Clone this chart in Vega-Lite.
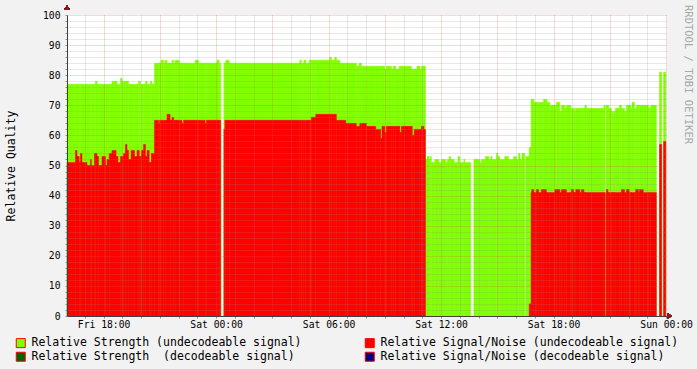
{
  "$schema": "https://vega.github.io/schema/vega-lite/v6.json",
  "width": 600,
  "height": 301,
  "autosize": {"type": "none"},
  "padding": {"left": 67, "top": 15, "right": 30, "bottom": 53},
  "background": "#f2f2f2",
  "view": {"fill": "white", "stroke": null},
  "config": {"font": "DejaVu Sans Mono"},
  "title": {"text": "RRDTOOL / TOBI OETIKER", "orient": "right", "anchor": "start", "offset": -10, "dx": -10, "font": "DejaVu Sans Mono", "fontSize": 10.5, "fontWeight": "normal", "color": "#a8a8a8", "frame": "group"},
  "data": {"values": [
    {"start":"2010-01-01T16:03:00Z","end":"2010-01-01T16:30:00Z","strength":77,"snr":51},
    {"start":"2010-01-01T16:30:00Z","end":"2010-01-01T16:35:00Z","strength":77,"snr":55},
    {"start":"2010-01-01T16:35:00Z","end":"2010-01-01T16:42:00Z","strength":77,"snr":53},
    {"start":"2010-01-01T16:42:00Z","end":"2010-01-01T16:46:00Z","strength":77,"snr":51},
    {"start":"2010-01-01T16:46:00Z","end":"2010-01-01T16:51:00Z","strength":77,"snr":54},
    {"start":"2010-01-01T16:51:00Z","end":"2010-01-01T17:07:00Z","strength":77,"snr":51},
    {"start":"2010-01-01T17:07:00Z","end":"2010-01-01T17:18:00Z","strength":77,"snr":50},
    {"start":"2010-01-01T17:18:00Z","end":"2010-01-01T17:21:00Z","strength":77,"snr":52},
    {"start":"2010-01-01T17:21:00Z","end":"2010-01-01T17:31:00Z","strength":77,"snr":50},
    {"start":"2010-01-01T17:31:00Z","end":"2010-01-01T17:34:00Z","strength":77,"snr":54},
    {"start":"2010-01-01T17:34:00Z","end":"2010-01-01T17:39:00Z","strength":78,"snr":54},
    {"start":"2010-01-01T17:39:00Z","end":"2010-01-01T17:44:00Z","strength":77,"snr":53},
    {"start":"2010-01-01T17:44:00Z","end":"2010-01-01T17:55:00Z","strength":77,"snr":50},
    {"start":"2010-01-01T17:55:00Z","end":"2010-01-01T18:06:00Z","strength":77,"snr":53},
    {"start":"2010-01-01T18:06:00Z","end":"2010-01-01T18:11:00Z","strength":77,"snr":50},
    {"start":"2010-01-01T18:11:00Z","end":"2010-01-01T18:18:00Z","strength":77,"snr":52},
    {"start":"2010-01-01T18:18:00Z","end":"2010-01-01T18:27:00Z","strength":77,"snr":54},
    {"start":"2010-01-01T18:27:00Z","end":"2010-01-01T18:40:00Z","strength":78,"snr":55},
    {"start":"2010-01-01T18:40:00Z","end":"2010-01-01T18:43:00Z","strength":78,"snr":53},
    {"start":"2010-01-01T18:43:00Z","end":"2010-01-01T18:46:00Z","strength":77,"snr":53},
    {"start":"2010-01-01T18:46:00Z","end":"2010-01-01T18:54:00Z","strength":77,"snr":51},
    {"start":"2010-01-01T18:54:00Z","end":"2010-01-01T18:59:00Z","strength":79,"snr":53},
    {"start":"2010-01-01T18:59:00Z","end":"2010-01-01T19:04:00Z","strength":78,"snr":53},
    {"start":"2010-01-01T19:04:00Z","end":"2010-01-01T19:10:00Z","strength":78,"snr":54},
    {"start":"2010-01-01T19:10:00Z","end":"2010-01-01T19:15:00Z","strength":78,"snr":57},
    {"start":"2010-01-01T19:15:00Z","end":"2010-01-01T19:20:00Z","strength":78,"snr":55},
    {"start":"2010-01-01T19:20:00Z","end":"2010-01-01T19:28:00Z","strength":77,"snr":52},
    {"start":"2010-01-01T19:28:00Z","end":"2010-01-01T19:39:00Z","strength":77,"snr":55},
    {"start":"2010-01-01T19:39:00Z","end":"2010-01-01T19:47:00Z","strength":77,"snr":53},
    {"start":"2010-01-01T19:47:00Z","end":"2010-01-01T19:52:00Z","strength":77,"snr":55},
    {"start":"2010-01-01T19:52:00Z","end":"2010-01-01T19:54:00Z","strength":78,"snr":55},
    {"start":"2010-01-01T19:54:00Z","end":"2010-01-01T19:58:00Z","strength":78,"snr":53},
    {"start":"2010-01-01T19:58:00Z","end":"2010-01-01T20:01:00Z","strength":77,"snr":53},
    {"start":"2010-01-01T20:01:00Z","end":"2010-01-01T20:08:00Z","strength":77,"snr":55},
    {"start":"2010-01-01T20:08:00Z","end":"2010-01-01T20:14:00Z","strength":77,"snr":57},
    {"start":"2010-01-01T20:14:00Z","end":"2010-01-01T20:19:00Z","strength":78,"snr":53},
    {"start":"2010-01-01T20:19:00Z","end":"2010-01-01T20:26:00Z","strength":77,"snr":55},
    {"start":"2010-01-01T20:26:00Z","end":"2010-01-01T20:30:00Z","strength":77,"snr":51},
    {"start":"2010-01-01T20:30:00Z","end":"2010-01-01T20:33:00Z","strength":78,"snr":51},
    {"start":"2010-01-01T20:33:00Z","end":"2010-01-01T20:35:00Z","strength":78,"snr":54},
    {"start":"2010-01-01T20:35:00Z","end":"2010-01-01T20:43:00Z","strength":77,"snr":54},
    {"start":"2010-01-01T20:43:00Z","end":"2010-01-01T20:56:00Z","strength":84,"snr":65},
    {"start":"2010-01-01T20:56:00Z","end":"2010-01-01T20:59:00Z","strength":84,"snr":64},
    {"start":"2010-01-01T20:59:00Z","end":"2010-01-01T21:04:00Z","strength":84,"snr":65},
    {"start":"2010-01-01T21:04:00Z","end":"2010-01-01T21:12:00Z","strength":85,"snr":65},
    {"start":"2010-01-01T21:12:00Z","end":"2010-01-01T21:17:00Z","strength":84,"snr":65},
    {"start":"2010-01-01T21:17:00Z","end":"2010-01-01T21:23:00Z","strength":85,"snr":65},
    {"start":"2010-01-01T21:23:00Z","end":"2010-01-01T21:33:00Z","strength":84,"snr":67},
    {"start":"2010-01-01T21:33:00Z","end":"2010-01-01T21:39:00Z","strength":84,"snr":65},
    {"start":"2010-01-01T21:39:00Z","end":"2010-01-01T21:44:00Z","strength":85,"snr":66},
    {"start":"2010-01-01T21:44:00Z","end":"2010-01-01T21:49:00Z","strength":84,"snr":65},
    {"start":"2010-01-01T21:49:00Z","end":"2010-01-01T22:02:00Z","strength":85,"snr":65},
    {"start":"2010-01-01T22:02:00Z","end":"2010-01-01T22:11:00Z","strength":84,"snr":65},
    {"start":"2010-01-01T22:11:00Z","end":"2010-01-01T22:16:00Z","strength":84,"snr":64},
    {"start":"2010-01-01T22:16:00Z","end":"2010-01-01T22:53:00Z","strength":84,"snr":65},
    {"start":"2010-01-01T22:53:00Z","end":"2010-01-01T23:04:00Z","strength":85,"snr":65},
    {"start":"2010-01-01T23:04:00Z","end":"2010-01-01T23:25:00Z","strength":84,"snr":65},
    {"start":"2010-01-01T23:25:00Z","end":"2010-01-01T23:29:00Z","strength":84,"snr":64},
    {"start":"2010-01-01T23:29:00Z","end":"2010-01-02T00:03:00Z","strength":84,"snr":65},
    {"start":"2010-01-02T00:03:00Z","end":"2010-01-02T00:10:00Z","strength":85,"snr":65},
    {"start":"2010-01-02T00:10:00Z","end":"2010-01-02T00:15:00Z","strength":84,"snr":65},
    {"start":"2010-01-02T00:25:00Z","end":"2010-01-02T00:28:00Z","strength":84,"snr":62},
    {"start":"2010-01-02T00:28:00Z","end":"2010-01-02T00:31:00Z","strength":84,"snr":65},
    {"start":"2010-01-02T00:31:00Z","end":"2010-01-02T00:42:00Z","strength":85,"snr":65},
    {"start":"2010-01-02T00:42:00Z","end":"2010-01-02T04:28:00Z","strength":84,"snr":65},
    {"start":"2010-01-02T04:28:00Z","end":"2010-01-02T04:33:00Z","strength":85,"snr":65},
    {"start":"2010-01-02T04:33:00Z","end":"2010-01-02T04:41:00Z","strength":84,"snr":65},
    {"start":"2010-01-02T04:41:00Z","end":"2010-01-02T04:47:00Z","strength":85,"snr":65},
    {"start":"2010-01-02T04:47:00Z","end":"2010-01-02T04:58:00Z","strength":84,"snr":65},
    {"start":"2010-01-02T04:58:00Z","end":"2010-01-02T05:05:00Z","strength":85,"snr":65},
    {"start":"2010-01-02T05:05:00Z","end":"2010-01-02T05:19:00Z","strength":85,"snr":66},
    {"start":"2010-01-02T05:19:00Z","end":"2010-01-02T06:04:00Z","strength":85,"snr":67},
    {"start":"2010-01-02T06:04:00Z","end":"2010-01-02T06:09:00Z","strength":86,"snr":67},
    {"start":"2010-01-02T06:09:00Z","end":"2010-01-02T06:20:00Z","strength":85,"snr":67},
    {"start":"2010-01-02T06:20:00Z","end":"2010-01-02T06:25:00Z","strength":86,"snr":67},
    {"start":"2010-01-02T06:25:00Z","end":"2010-01-02T06:36:00Z","strength":85,"snr":65},
    {"start":"2010-01-02T06:36:00Z","end":"2010-01-02T06:55:00Z","strength":84,"snr":65},
    {"start":"2010-01-02T06:55:00Z","end":"2010-01-02T07:29:00Z","strength":84,"snr":64},
    {"start":"2010-01-02T07:29:00Z","end":"2010-01-02T07:38:00Z","strength":83,"snr":63},
    {"start":"2010-01-02T07:38:00Z","end":"2010-01-02T07:40:00Z","strength":84,"snr":63},
    {"start":"2010-01-02T07:40:00Z","end":"2010-01-02T07:45:00Z","strength":84,"snr":64},
    {"start":"2010-01-02T07:45:00Z","end":"2010-01-02T08:01:00Z","strength":83,"snr":64},
    {"start":"2010-01-02T08:01:00Z","end":"2010-01-02T08:31:00Z","strength":83,"snr":63},
    {"start":"2010-01-02T08:31:00Z","end":"2010-01-02T08:47:00Z","strength":83,"snr":62},
    {"start":"2010-01-02T08:47:00Z","end":"2010-01-02T08:51:00Z","strength":83,"snr":59},
    {"start":"2010-01-02T08:51:00Z","end":"2010-01-02T09:00:00Z","strength":83,"snr":63},
    {"start":"2010-01-02T09:00:00Z","end":"2010-01-02T09:05:00Z","strength":82,"snr":61},
    {"start":"2010-01-02T09:05:00Z","end":"2010-01-02T09:21:00Z","strength":83,"snr":63},
    {"start":"2010-01-02T09:21:00Z","end":"2010-01-02T09:27:00Z","strength":82,"snr":63},
    {"start":"2010-01-02T09:27:00Z","end":"2010-01-02T09:35:00Z","strength":83,"snr":63},
    {"start":"2010-01-02T09:35:00Z","end":"2010-01-02T09:46:00Z","strength":82,"snr":63},
    {"start":"2010-01-02T09:46:00Z","end":"2010-01-02T09:48:00Z","strength":83,"snr":63},
    {"start":"2010-01-02T09:48:00Z","end":"2010-01-02T09:53:00Z","strength":83,"snr":61},
    {"start":"2010-01-02T09:53:00Z","end":"2010-01-02T10:25:00Z","strength":83,"snr":63},
    {"start":"2010-01-02T10:25:00Z","end":"2010-01-02T10:28:00Z","strength":82,"snr":63},
    {"start":"2010-01-02T10:28:00Z","end":"2010-01-02T10:34:00Z","strength":82,"snr":60},
    {"start":"2010-01-02T10:34:00Z","end":"2010-01-02T10:43:00Z","strength":82,"snr":62},
    {"start":"2010-01-02T10:43:00Z","end":"2010-01-02T10:52:00Z","strength":83,"snr":62},
    {"start":"2010-01-02T10:52:00Z","end":"2010-01-02T10:57:00Z","strength":82,"snr":62},
    {"start":"2010-01-02T10:57:00Z","end":"2010-01-02T11:05:00Z","strength":83,"snr":63},
    {"start":"2010-01-02T11:05:00Z","end":"2010-01-02T11:10:00Z","strength":83,"snr":62},
    {"start":"2010-01-02T11:11:00Z","end":"2010-01-02T11:15:00Z","strength":52,"snr":0},
    {"start":"2010-01-02T11:15:00Z","end":"2010-01-02T11:22:00Z","strength":53,"snr":0},
    {"start":"2010-01-02T11:22:00Z","end":"2010-01-02T11:26:00Z","strength":52,"snr":0},
    {"start":"2010-01-02T11:26:00Z","end":"2010-01-02T11:29:00Z","strength":53,"snr":0},
    {"start":"2010-01-02T11:29:00Z","end":"2010-01-02T11:40:00Z","strength":51,"snr":0},
    {"start":"2010-01-02T11:40:00Z","end":"2010-01-02T11:53:00Z","strength":52,"snr":0},
    {"start":"2010-01-02T11:53:00Z","end":"2010-01-02T12:01:00Z","strength":51,"snr":0},
    {"start":"2010-01-02T12:01:00Z","end":"2010-01-02T12:15:00Z","strength":52,"snr":0},
    {"start":"2010-01-02T12:15:00Z","end":"2010-01-02T12:20:00Z","strength":51,"snr":0},
    {"start":"2010-01-02T12:20:00Z","end":"2010-01-02T12:26:00Z","strength":52,"snr":0},
    {"start":"2010-01-02T12:26:00Z","end":"2010-01-02T12:31:00Z","strength":53,"snr":0},
    {"start":"2010-01-02T12:31:00Z","end":"2010-01-02T12:42:00Z","strength":52,"snr":0},
    {"start":"2010-01-02T12:42:00Z","end":"2010-01-02T12:54:00Z","strength":51,"snr":0},
    {"start":"2010-01-02T12:54:00Z","end":"2010-01-02T13:00:00Z","strength":53,"snr":0},
    {"start":"2010-01-02T13:00:00Z","end":"2010-01-02T13:13:00Z","strength":51,"snr":0},
    {"start":"2010-01-02T13:13:00Z","end":"2010-01-02T13:16:00Z","strength":52,"snr":0},
    {"start":"2010-01-02T13:16:00Z","end":"2010-01-02T13:35:00Z","strength":51,"snr":0},
    {"start":"2010-01-02T13:45:00Z","end":"2010-01-02T14:04:00Z","strength":52,"snr":0},
    {"start":"2010-01-02T14:04:00Z","end":"2010-01-02T14:09:00Z","strength":51,"snr":0},
    {"start":"2010-01-02T14:09:00Z","end":"2010-01-02T14:22:00Z","strength":52,"snr":0},
    {"start":"2010-01-02T14:22:00Z","end":"2010-01-02T14:33:00Z","strength":53,"snr":0},
    {"start":"2010-01-02T14:33:00Z","end":"2010-01-02T14:39:00Z","strength":52,"snr":0},
    {"start":"2010-01-02T14:39:00Z","end":"2010-01-02T14:43:00Z","strength":53,"snr":0},
    {"start":"2010-01-02T14:43:00Z","end":"2010-01-02T14:57:00Z","strength":52,"snr":0},
    {"start":"2010-01-02T14:57:00Z","end":"2010-01-02T15:02:00Z","strength":54,"snr":0},
    {"start":"2010-01-02T15:02:00Z","end":"2010-01-02T15:08:00Z","strength":53,"snr":0},
    {"start":"2010-01-02T15:08:00Z","end":"2010-01-02T15:24:00Z","strength":52,"snr":0},
    {"start":"2010-01-02T15:24:00Z","end":"2010-01-02T15:36:00Z","strength":53,"snr":0},
    {"start":"2010-01-02T15:36:00Z","end":"2010-01-02T15:52:00Z","strength":52,"snr":0},
    {"start":"2010-01-02T15:52:00Z","end":"2010-01-02T16:01:00Z","strength":53,"snr":0},
    {"start":"2010-01-02T16:01:00Z","end":"2010-01-02T16:08:00Z","strength":52,"snr":0},
    {"start":"2010-01-02T16:08:00Z","end":"2010-01-02T16:13:00Z","strength":54,"snr":0},
    {"start":"2010-01-02T16:13:00Z","end":"2010-01-02T16:19:00Z","strength":52,"snr":0},
    {"start":"2010-01-02T16:19:00Z","end":"2010-01-02T16:28:00Z","strength":54,"snr":0},
    {"start":"2010-01-02T16:31:00Z","end":"2010-01-02T16:42:00Z","strength":53,"snr":0},
    {"start":"2010-01-02T16:42:00Z","end":"2010-01-02T16:48:00Z","strength":56,"snr":4},
    {"start":"2010-01-02T16:48:00Z","end":"2010-01-02T16:50:00Z","strength":72,"snr":41},
    {"start":"2010-01-02T16:50:00Z","end":"2010-01-02T16:57:00Z","strength":72,"snr":42},
    {"start":"2010-01-02T16:57:00Z","end":"2010-01-02T17:05:00Z","strength":71,"snr":41},
    {"start":"2010-01-02T17:05:00Z","end":"2010-01-02T17:12:00Z","strength":71,"snr":42},
    {"start":"2010-01-02T17:12:00Z","end":"2010-01-02T17:21:00Z","strength":71,"snr":41},
    {"start":"2010-01-02T17:21:00Z","end":"2010-01-02T17:28:00Z","strength":71,"snr":42},
    {"start":"2010-01-02T17:28:00Z","end":"2010-01-02T17:37:00Z","strength":72,"snr":42},
    {"start":"2010-01-02T17:37:00Z","end":"2010-01-02T17:39:00Z","strength":72,"snr":41},
    {"start":"2010-01-02T17:39:00Z","end":"2010-01-02T17:48:00Z","strength":71,"snr":41},
    {"start":"2010-01-02T17:48:00Z","end":"2010-01-02T18:04:00Z","strength":70,"snr":41},
    {"start":"2010-01-02T18:04:00Z","end":"2010-01-02T18:09:00Z","strength":70,"snr":42},
    {"start":"2010-01-02T18:09:00Z","end":"2010-01-02T18:20:00Z","strength":71,"snr":42},
    {"start":"2010-01-02T18:20:00Z","end":"2010-01-02T18:25:00Z","strength":68,"snr":41},
    {"start":"2010-01-02T18:25:00Z","end":"2010-01-02T18:36:00Z","strength":70,"snr":42},
    {"start":"2010-01-02T18:36:00Z","end":"2010-01-02T18:41:00Z","strength":69,"snr":42},
    {"start":"2010-01-02T18:41:00Z","end":"2010-01-02T18:55:00Z","strength":70,"snr":41},
    {"start":"2010-01-02T18:55:00Z","end":"2010-01-02T18:57:00Z","strength":69,"snr":41},
    {"start":"2010-01-02T18:57:00Z","end":"2010-01-02T19:04:00Z","strength":69,"snr":42},
    {"start":"2010-01-02T19:04:00Z","end":"2010-01-02T19:05:00Z","strength":69,"snr":41},
    {"start":"2010-01-02T19:05:00Z","end":"2010-01-02T19:08:00Z","strength":68,"snr":41},
    {"start":"2010-01-02T19:08:00Z","end":"2010-01-02T19:11:00Z","strength":69,"snr":41},
    {"start":"2010-01-02T19:11:00Z","end":"2010-01-02T19:24:00Z","strength":69,"snr":42},
    {"start":"2010-01-02T19:24:00Z","end":"2010-01-02T19:29:00Z","strength":69,"snr":41},
    {"start":"2010-01-02T19:29:00Z","end":"2010-01-02T19:37:00Z","strength":69,"snr":42},
    {"start":"2010-01-02T19:37:00Z","end":"2010-01-02T19:40:00Z","strength":69,"snr":41},
    {"start":"2010-01-02T19:40:00Z","end":"2010-01-02T19:45:00Z","strength":70,"snr":41},
    {"start":"2010-01-02T19:45:00Z","end":"2010-01-02T20:41:00Z","strength":69,"snr":41},
    {"start":"2010-01-02T20:41:00Z","end":"2010-01-02T20:45:00Z","strength":70,"snr":41},
    {"start":"2010-01-02T20:48:00Z","end":"2010-01-02T20:49:00Z","strength":70,"snr":41},
    {"start":"2010-01-02T20:49:00Z","end":"2010-01-02T20:54:00Z","strength":70,"snr":42},
    {"start":"2010-01-02T20:54:00Z","end":"2010-01-02T20:56:00Z","strength":70,"snr":41},
    {"start":"2010-01-02T20:56:00Z","end":"2010-01-02T21:05:00Z","strength":69,"snr":41},
    {"start":"2010-01-02T21:05:00Z","end":"2010-01-02T21:10:00Z","strength":68,"snr":41},
    {"start":"2010-01-02T21:10:00Z","end":"2010-01-02T21:13:00Z","strength":67,"snr":41},
    {"start":"2010-01-02T21:13:00Z","end":"2010-01-02T21:18:00Z","strength":68,"snr":41},
    {"start":"2010-01-02T21:18:00Z","end":"2010-01-02T21:31:00Z","strength":69,"snr":41},
    {"start":"2010-01-02T21:31:00Z","end":"2010-01-02T21:37:00Z","strength":70,"snr":41},
    {"start":"2010-01-02T21:37:00Z","end":"2010-01-02T21:47:00Z","strength":69,"snr":42},
    {"start":"2010-01-02T21:47:00Z","end":"2010-01-02T21:53:00Z","strength":68,"snr":41},
    {"start":"2010-01-02T21:53:00Z","end":"2010-01-02T22:02:00Z","strength":70,"snr":42},
    {"start":"2010-01-02T22:02:00Z","end":"2010-01-02T22:07:00Z","strength":70,"snr":41},
    {"start":"2010-01-02T22:07:00Z","end":"2010-01-02T22:11:00Z","strength":69,"snr":41},
    {"start":"2010-01-02T22:11:00Z","end":"2010-01-02T22:19:00Z","strength":71,"snr":41},
    {"start":"2010-01-02T22:19:00Z","end":"2010-01-02T22:23:00Z","strength":69,"snr":41},
    {"start":"2010-01-02T22:23:00Z","end":"2010-01-02T22:25:00Z","strength":69,"snr":42},
    {"start":"2010-01-02T22:25:00Z","end":"2010-01-02T22:32:00Z","strength":70,"snr":42},
    {"start":"2010-01-02T22:32:00Z","end":"2010-01-02T22:35:00Z","strength":70,"snr":41},
    {"start":"2010-01-02T22:35:00Z","end":"2010-01-02T22:47:00Z","strength":70,"snr":42},
    {"start":"2010-01-02T22:47:00Z","end":"2010-01-02T23:04:00Z","strength":70,"snr":41},
    {"start":"2010-01-02T23:04:00Z","end":"2010-01-02T23:11:00Z","strength":69,"snr":41},
    {"start":"2010-01-02T23:11:00Z","end":"2010-01-02T23:29:00Z","strength":70,"snr":41},
    {"start":"2010-01-02T23:39:00Z","end":"2010-01-02T23:46:00Z","strength":81,"snr":57},
    {"start":"2010-01-02T23:52:00Z","end":"2010-01-02T23:59:00Z","strength":81,"snr":58}
  ]},
  "layer": [
    {
      "mark": {"type": "bar", "stroke": "#80ff00", "strokeWidth": 0.5},
      "encoding": {
        "x": {
          "field": "start", "type": "temporal",
          "scale": {"type": "utc", "domain": [1262361780000, 1262476980000], "nice": false},
          "axis": {
            "title": null, "zindex": 1, "grid": true, "tickCount": 200,
            "values": [1262365200000,1262368800000,1262372400000,1262376000000,1262379600000,1262383200000,1262386800000,1262390400000,1262394000000,1262397600000,1262401200000,1262404800000,1262408400000,1262412000000,1262415600000,1262419200000,1262422800000,1262426400000,1262430000000,1262433600000,1262437200000,1262440800000,1262444400000,1262448000000,1262451600000,1262455200000,1262458800000,1262462400000,1262466000000,1262469600000,1262473200000,1262476800000],
            "gridDash": [1, 1],
            "gridColor": {"condition": {"test": "utchours(datum.value) % 3 === 0", "value": "#de5050"}, "value": "#8f8f8f"},
            "gridOpacity": {"condition": {"test": "utchours(datum.value) % 3 === 0", "value": 0.45}, "value": 0.4},
            "ticks": true, "tickSize": 2,
            "tickColor": "#8f8f8f",
            "domainColor": "#404040",
            "labelExpr": "utchours(datum.value) % 6 === 0 ? utcFormat(datum.value, '%a %H:%M') : ''",
            "labelFont": "DejaVu Sans Mono", "labelFontSize": 9.7, "labelColor": "#000000",
            "labelPadding": 1, "labelOverlap": false, "labelFlush": false, "labelBound": false
          }
        },
        "x2": {"field": "end"},
        "y": {
          "field": "strength", "type": "quantitative",
          "scale": {"domain": [0, 100], "nice": false},
          "axis": {
            "title": "Relative Quality", "zindex": 1, "grid": true, "tickCount": 200, "format": "d",
            "values": [0,2,4,6,8,10,12,14,16,18,20,22,24,26,28,30,32,34,36,38,40,42,44,46,48,50,52,54,56,58,60,62,64,66,68,70,72,74,76,78,80,82,84,86,88,90,92,94,96,98,100],
            "gridDash": [1, 1],
            "gridColor": {"condition": {"test": "datum.value % 10 === 0", "value": "#de5050"}, "value": "#8f8f8f"},
            "gridOpacity": {"condition": {"test": "datum.value % 10 === 0", "value": 0.45}, "value": 0.4},
            "ticks": true, "tickSize": 2,
            "tickColor": "#8f8f8f",
            "domainColor": "#404040",
            "labelExpr": "datum.value % 10 === 0 ? datum.label : ''",
            "labelFont": "DejaVu Sans Mono", "labelFontSize": 9.7, "labelColor": "#000000",
            "labelPadding": 5, "labelOverlap": false, "labelFlush": false,
            "titleFont": "DejaVu Sans Mono", "titleFontSize": 11.5, "titleFontWeight": "normal", "titleColor": "#000000",
            "titlePadding": 26
          }
        },
        "y2": {"datum": 0},
        "color": {
          "datum": "Relative Strength (undecodeable signal)", "type": "nominal",
          "scale": {
            "domain": ["Relative Strength (undecodeable signal)", "Relative Strength \u00a0(decodeable signal)", "Relative Signal/Noise (undecodeable signal)", "Relative Signal/Noise (decodeable signal)"],
            "range": ["#80ff00", "#006400", "#ff0000", "#000080"]
          },
          "legend": {
            "orient": "none", "legendX": -52, "legendY": 322, "columns": 2, "title": null,
            "symbolType": "square", "symbolSize": 81, "symbolStrokeColor": "#000000", "symbolStrokeWidth": 1, "symbolOpacity": 1,
            "labelFont": "DejaVu Sans Mono", "labelFontSize": 11.5, "labelColor": "#000000", "labelLimit": 500,
            "columnPadding": 61, "rowPadding": 0, "labelOffset": 5, "padding": 0
          }
        }
      }
    },
    {
      "transform": [{"filter": "datum.snr > 0"}],
      "mark": {"type": "bar", "stroke": "#ff0000", "strokeWidth": 0.5},
      "encoding": {
        "x": {"field": "start", "type": "temporal"},
        "x2": {"field": "end"},
        "y": {"field": "snr", "type": "quantitative"},
        "y2": {"datum": 0},
        "color": {"datum": "Relative Signal/Noise (undecodeable signal)", "type": "nominal"}
      }
    },
    {
      "mark": {"type": "point", "shape": "triangle-up", "filled": true, "size": 28, "color": "#801f1f", "opacity": 1, "clip": false},
      "encoding": {
        "x": {"datum": 1262361780000, "type": "temporal"},
        "y": {"datum": 102.5, "type": "quantitative"}
      }
    },
    {
      "mark": {"type": "point", "shape": "triangle-right", "filled": true, "size": 28, "color": "#801f1f", "opacity": 1, "clip": false},
      "encoding": {
        "x": {"datum": 1262477460000, "type": "temporal"},
        "y": {"datum": 0, "type": "quantitative"}
      }
    }
  ]
}
